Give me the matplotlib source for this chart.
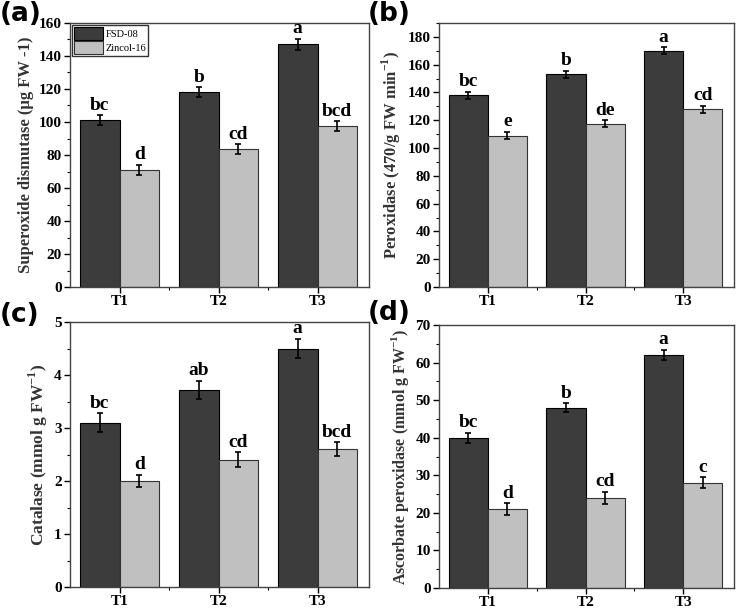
import numpy as np
from matplotlib import pyplot as plt
from matplotlib.ticker import MultipleLocator, FixedLocator

plt.rcParams['font.family'] = ['Liberation Serif', 'DejaVu Serif']
plt.rcParams['mathtext.fontset'] = 'custom'
plt.rcParams['mathtext.rm'] = 'Liberation Serif:bold'
plt.rcParams['mathtext.bf'] = 'Liberation Serif:bold'

treatments = ['T1', 'T2', 'T3']
cultivars = ['FSD-08', 'Zincol-16']

sod_fsd = [101, 118, 147]
sod_zin = [71, 83.5, 97.5]
sod_fsd_err = [3, 3, 3.5]
sod_zin_err = [3, 3, 3]
sod_fsd_let = ['bc', 'b', 'a']
sod_zin_let = ['d', 'cd', 'bcd']

pod_fsd = [138, 153, 170]
pod_zin = [109, 117.5, 128]
pod_fsd_err = [2.5, 2.5, 2.5]
pod_zin_err = [2.5, 2.5, 2.5]
pod_fsd_let = ['bc', 'b', 'a']
pod_zin_let = ['e', 'de', 'cd']

cat_fsd = [3.1, 3.72, 4.5]
cat_zin = [2.0, 2.4, 2.6]
cat_fsd_err = [0.18, 0.17, 0.18]
cat_zin_err = [0.12, 0.14, 0.13]
cat_fsd_let = ['bc', 'ab', 'a']
cat_zin_let = ['d', 'cd', 'bcd']

apx_fsd = [40, 48, 62]
apx_zin = [21, 24, 28]
apx_fsd_err = [1.3, 1.2, 1.4]
apx_zin_err = [1.5, 1.6, 1.5]
apx_fsd_let = ['bc', 'b', 'a']
apx_zin_let = ['d', 'cd', 'c']

dark = '#3c3c3c'
light = '#c0c0c0'
W, H = 736, 609

fig = plt.figure(figsize=(W / 100, H / 100), dpi=100)


def panel(box, fsd, zin, fe, ze, fl, zl, ymax, ystep, ytop, ylabel, lsize, tag, legend=False):
    l, t, r, b = box
    ax = fig.add_axes([l / W, 1 - b / H, (r - l) / W, (b - t) / H])
    x = np.arange(len(treatments))
    w = 0.4
    ekw = dict(ecolor='black', elinewidth=1.2, capsize=2.5, capthick=1.2)
    ax.bar(x - w / 2, fsd, w, yerr=fe, color=dark, edgecolor='black', linewidth=0.8,
           error_kw=ekw, label=cultivars[0])
    ax.bar(x + w / 2, zin, w, yerr=ze, color=light, edgecolor='#333333', linewidth=0.8,
           error_kw=ekw, label=cultivars[1])
    pad = ytop * 0.006
    for i in x:
        ax.text(i - w / 2, fsd[i] + fe[i] + pad, fl[i], ha='center', va='bottom',
                fontsize=14, fontweight='bold')
        ax.text(i + w / 2, zin[i] + ze[i] + pad, zl[i], ha='center', va='bottom',
                fontsize=14, fontweight='bold')
    ax.set_xlim(-0.5, 2.52)
    ax.set_ylim(0, ytop)
    ax.set_xticks(x)
    ax.set_xticklabels(treatments, fontsize=11, fontweight='bold')
    ax.xaxis.set_minor_locator(FixedLocator([0.5, 1.5]))
    ax.yaxis.set_major_locator(MultipleLocator(ystep))
    ax.yaxis.set_minor_locator(MultipleLocator(ystep / 2))
    ax.set_yticks(np.arange(0, ymax + ystep / 2, ystep))
    for lab in ax.get_yticklabels():
        lab.set_fontweight('bold')
        lab.set_fontsize(11)
    ax.tick_params(axis='both', which='major', direction='out', length=4, width=1, pad=2)
    ax.tick_params(axis='both', which='minor', direction='out', length=2, width=0.8)
    ax.tick_params(top=False, right=False, which='both')
    for s in ax.spines.values():
        s.set_color('#444444')
        s.set_linewidth(1)
    ax.set_ylabel(ylabel, fontsize=lsize, fontweight='bold', color='#333333', labelpad=3)
    if legend:
        ax.legend(loc='upper left', fontsize=7.5, frameon=True, fancybox=False,
                  edgecolor='black', borderpad=0.2, handlelength=2.8, handleheight=1.5,
                  labelspacing=0.15, handletextpad=0.2, borderaxespad=0.2)
    fig.text(tag[0] / W, 1 - tag[1] / H, tag[2], fontsize=19, fontweight='bold',
             family='DejaVu Sans', ha='left', va='top')
    return ax


panel((70, 23, 369, 287), sod_fsd, sod_zin, sod_fsd_err, sod_zin_err, sod_fsd_let, sod_zin_let,
      160, 20, 160, 'Superoxide dismutase (µg FW -1)', 12, (0, 1, '(a)'), legend=True)
panel((439, 23, 734, 287), pod_fsd, pod_zin, pod_fsd_err, pod_zin_err, pod_fsd_let, pod_zin_let,
      180, 20, 190, 'Peroxidase (470/g FW min$^{-1}$)', 12, (368, 1, '(b)'))
panel((70, 322, 369, 587), cat_fsd, cat_zin, cat_fsd_err, cat_zin_err, cat_fsd_let, cat_zin_let,
      5, 1, 5, 'Catalase (mmol g FW$^{-1}$)', 12.5, (0, 302, '(c)'))
panel((439, 325, 734, 588), apx_fsd, apx_zin, apx_fsd_err, apx_zin_err, apx_fsd_let, apx_zin_let,
      70, 10, 70, 'Ascorbate peroxidase (mmol g FW$^{-1}$)', 11.5, (368, 300, '(d)'))

plt.savefig('out.png', dpi=100)
